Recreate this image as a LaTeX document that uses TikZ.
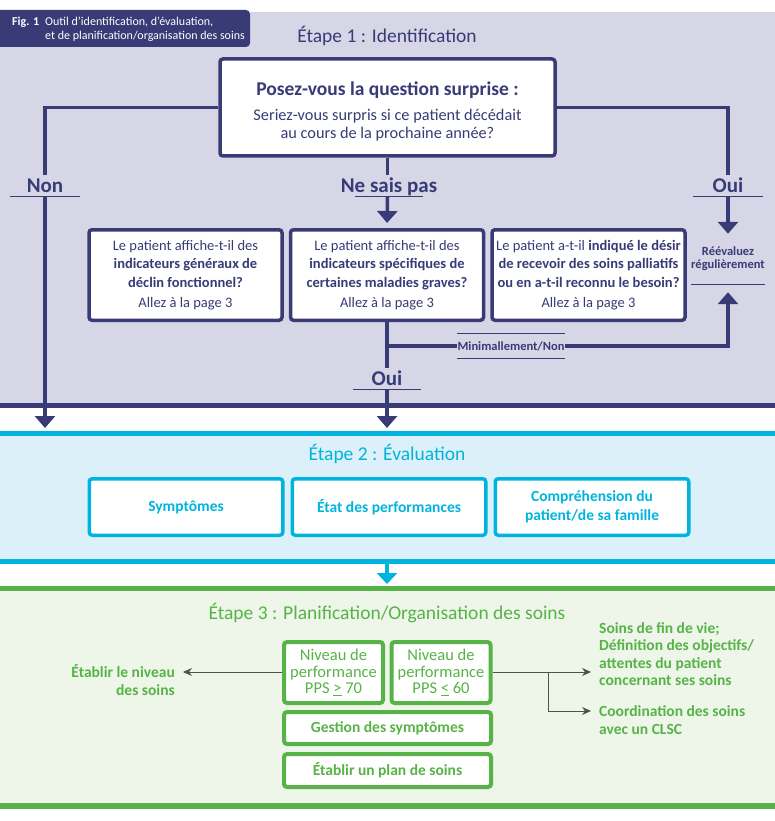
\documentclass[tikz,border=0pt]{standalone}
\usepackage{fontspec}
\setmainfont{Carlito}
\usepackage{xcolor}
\usepackage{tikz}
\usetikzlibrary{arrows.meta, positioning}
\definecolor{navy}{HTML}{383B76}
\definecolor{lavender}{HTML}{D6D6E6}
\definecolor{cyanline}{HTML}{00B4DE}
\definecolor{skyfill}{HTML}{DCF0F9}
\definecolor{greenline}{HTML}{57B347}
\definecolor{mintfill}{HTML}{EDF6E9}
\definecolor{pointer}{HTML}{505052}
\tikzstyle{block} = [rectangle, rounded corners=3pt, draw=navy, line width=3.5pt, fill=white, text=navy, align=center, font=\fontsize{14.5}{18.5}\selectfont]
\tikzstyle{evalbox} = [rectangle, rounded corners=3pt, draw=cyanline, line width=3.5pt, fill=white, text=cyanline, align=center, minimum width=193.5, minimum height=56.5, font=\fontsize{15.5}{18.5}\selectfont\bfseries]
\tikzstyle{planbox} = [rectangle, rounded corners=3pt, draw=greenline, line width=4pt, fill=white, text=greenline, align=center, font=\fontsize{16.5}{16.6}\selectfont]
\tikzstyle{tag} = [text=navy, font=\fontsize{21}{22}\selectfont\bfseries, text height=15pt, text depth=2pt, inner ysep=2pt, inner xsep=0pt]
\tikzstyle{note} = [text=navy, font=\fontsize{12.5}{13}\selectfont\bfseries, align=center, inner sep=0pt]
\tikzstyle{sidetext} = [text=greenline, font=\fontsize{15.5}{17.3}\selectfont\bfseries, inner sep=0pt]
\tikzstyle{title} = [font=\fontsize{19.5}{21}\selectfont]
\tikzstyle{link} = [line width=3.5pt, navy]
\tikzstyle{arrow} = [line width=3.5pt, navy, -{Triangle[width=20pt,length=12pt]}]
\tikzstyle{cyanarrow} = [line width=3.5pt, cyanline, -{Triangle[width=20pt,length=11pt]}]
\tikzstyle{thinarrow} = [line width=1pt, pointer, -{Stealth[width=8pt,length=9pt]}]
\tikzstyle{rule} = [line width=0.8pt, navy]

\begin{document}
\begin{tikzpicture}[x=1pt, y=-1pt]
	\useasboundingbox (0,0) rectangle (775,821);
	% bands
	\fill[lavender] (0,12) rectangle (775,405);
	\fill[navy] (0,403) rectangle (775,408);
	\fill[skyfill] (0,436) rectangle (775,559);
	\fill[cyanline] (0,431) rectangle (775,436);
	\fill[cyanline] (0,559) rectangle (775,564);
	\fill[mintfill] (0,591) rectangle (775,803);
	\fill[greenline] (0,586) rectangle (775,591);
	\fill[greenline] (0,803) rectangle (775,809);
	\fill[navy, rounded corners=4pt] (-6,10) rectangle (250,47);

	\node (fig) [anchor=west, text=white, align=left, inner sep=0pt, font=\fontsize{12}{14.5}\selectfont] at (12,29.5) {\textbf{Fig. 1}\enspace Outil d’identification, d’évaluation,\\\phantom{\textbf{Fig. 1}\enspace}et de planification/organisation des soins};

	% stage 1
	\node (title1) [title, text=navy] at (387,36) {Étape 1 : Identification};
	\node (quest) [block, minimum width=335, minimum height=97, font=\fontsize{16.3}{18}\selectfont] at (387.5,107.5) {{\fontsize{19.5}{22}\selectfont\bfseries\rule{0pt}{22pt}Posez-vous la question surprise~:}\\[7pt]Seriez-vous surpris si ce patient décédait\\au cours de la prochaine année?};
	\node (non) [tag] at (45,186) {Non};
	\node (nsp) [tag] at (389,186) {Ne sais pas};
	\node (ouiA) [tag] at (728,186) {Oui};
	\draw [rule] ([xshift=-35pt]non.south) -- ([xshift=35pt]non.south);
	\draw [rule] ([xshift=-34pt]nsp.south) -- ([xshift=34pt]nsp.south);
	\draw [rule] ([xshift=-35pt]ouiA.south) -- ([xshift=35pt]ouiA.south);

	\node (box2) [block, minimum width=193, minimum height=90.5] at (387,275) {Le patient affiche-t-il des\\\textbf{indicateurs spécifiques de}\\\textbf{certaines maladies graves?}\\[1.5pt]Allez à la page 3};
	\node (box1) [block, minimum width=193, minimum height=90.5, left=5pt of box2] {Le patient affiche-t-il des\\\textbf{indicateurs généraux de}\\\textbf{déclin fonctionnel?}\\[1.5pt]Allez à la page 3};
	\node (box3) [block, minimum width=193, minimum height=90.5, right=5pt of box2] {Le patient a-t-il \textbf{indiqué le désir}\\\textbf{de recevoir des soins palliatifs}\\\textbf{ou en a-t-il reconnu le besoin?}\\[1.5pt]Allez à la page 3};
	\node (reeval) [note, minimum width=68, minimum height=50] at (728,259) {Réévaluez\\régulièrement};
	\draw [rule] (reeval.south west) -- (reeval.south east);
	\node (mini) [note, minimum width=108, minimum height=24] at (511,346) {Minimallement/Non};
	\draw [rule] (mini.north west) -- (mini.north east);
	\draw [rule] (mini.south west) -- (mini.south east);
	\node (ouiB) [tag] at (387,379) {Oui};
	\draw [rule] ([xshift=-34pt]ouiB.south) -- ([xshift=34pt]ouiB.south);
	\coordinate (nonend) at (45,428);
	\coordinate (ouiend) at (387,428);

	\draw [link] (quest.west) -| (non.north);
	\draw [arrow] (non.south) -- (nonend);
	\draw [link] (quest.south) -- (quest.south |- nsp.north);
	\draw [arrow, shorten >=5pt] (quest.south |- nsp.south) -- (box2.north);
	\draw [link] (quest.east) -| (ouiA.north);
	\draw [arrow] (ouiA.south) -- (reeval.north);
	\draw [link] (box2.south) -- (ouiB.north);
	\draw [link] (box2.south |- mini.west) -- (mini.west);
	\draw [arrow, shorten >=8pt] (mini.east) -| (reeval.south);
	\draw [arrow] (ouiB.south) -- (ouiend);

	% stage 2
	\node (title2) [title, text=cyanline] at (387,454) {Étape 2 : Évaluation};
	\node (etat) [evalbox] at (389,507) {État des performances};
	\node (sympt) [evalbox, left=6pt of etat] {Symptômes};
	\node (compr) [evalbox, right=6pt of etat] {Compréhension du\\patient/de sa famille};
	\coordinate (out2) at (387,563);
	\coordinate (in3) at (387,584);
	\draw [cyanarrow] (out2) -- (in3);

	% stage 3
	\node (title3) [title, text=greenline] at (387,613) {Étape 3 : Planification/Organisation des soins};
	\node (pps70) [planbox, minimum width=99, minimum height=61] at (333.5,672.5) {Niveau de\\performance\\PPS \underline{>} 70};
	\node (pps60) [planbox, minimum width=99, minimum height=61] at (441,672.5) {Niveau de\\performance\\PPS \underline{<} 60};
	\node (gest) [planbox, minimum width=207, minimum height=32, font=\fontsize{15.5}{17}\selectfont\bfseries] at (387.5,728) {Gestion des symptômes};
	\node (plan) [planbox, minimum width=207, minimum height=33, font=\fontsize{15.5}{17}\selectfont\bfseries] at (387.5,770.5) {Établir un plan de soins};

	\node (niveau) [sidetext, anchor=east, align=right] at (175,680) {Établir le niveau\\des soins};
	\node (fin) [sidetext, anchor=west, align=left] at (599,654) {Soins de fin de vie;\\Définition des objectifs/\\attentes du patient\\concernant ses soins};
	\node (clsc) [sidetext, anchor=west, align=left] at (599,720) {Coordination des soins\\avec un CLSC};
	\coordinate (niveaupt) at (183,672);
	\coordinate (split) at (548,672);
	\coordinate (finpt) at (591,672);
	\coordinate (clscpt) at (591,711);

	\draw [thinarrow] (pps70.west |- niveaupt) -- (niveaupt);
	\draw [thinarrow] (pps60.east |- finpt) -- (finpt);
	\draw [thinarrow] (split) |- (clscpt);
\end{tikzpicture}
\end{document}
